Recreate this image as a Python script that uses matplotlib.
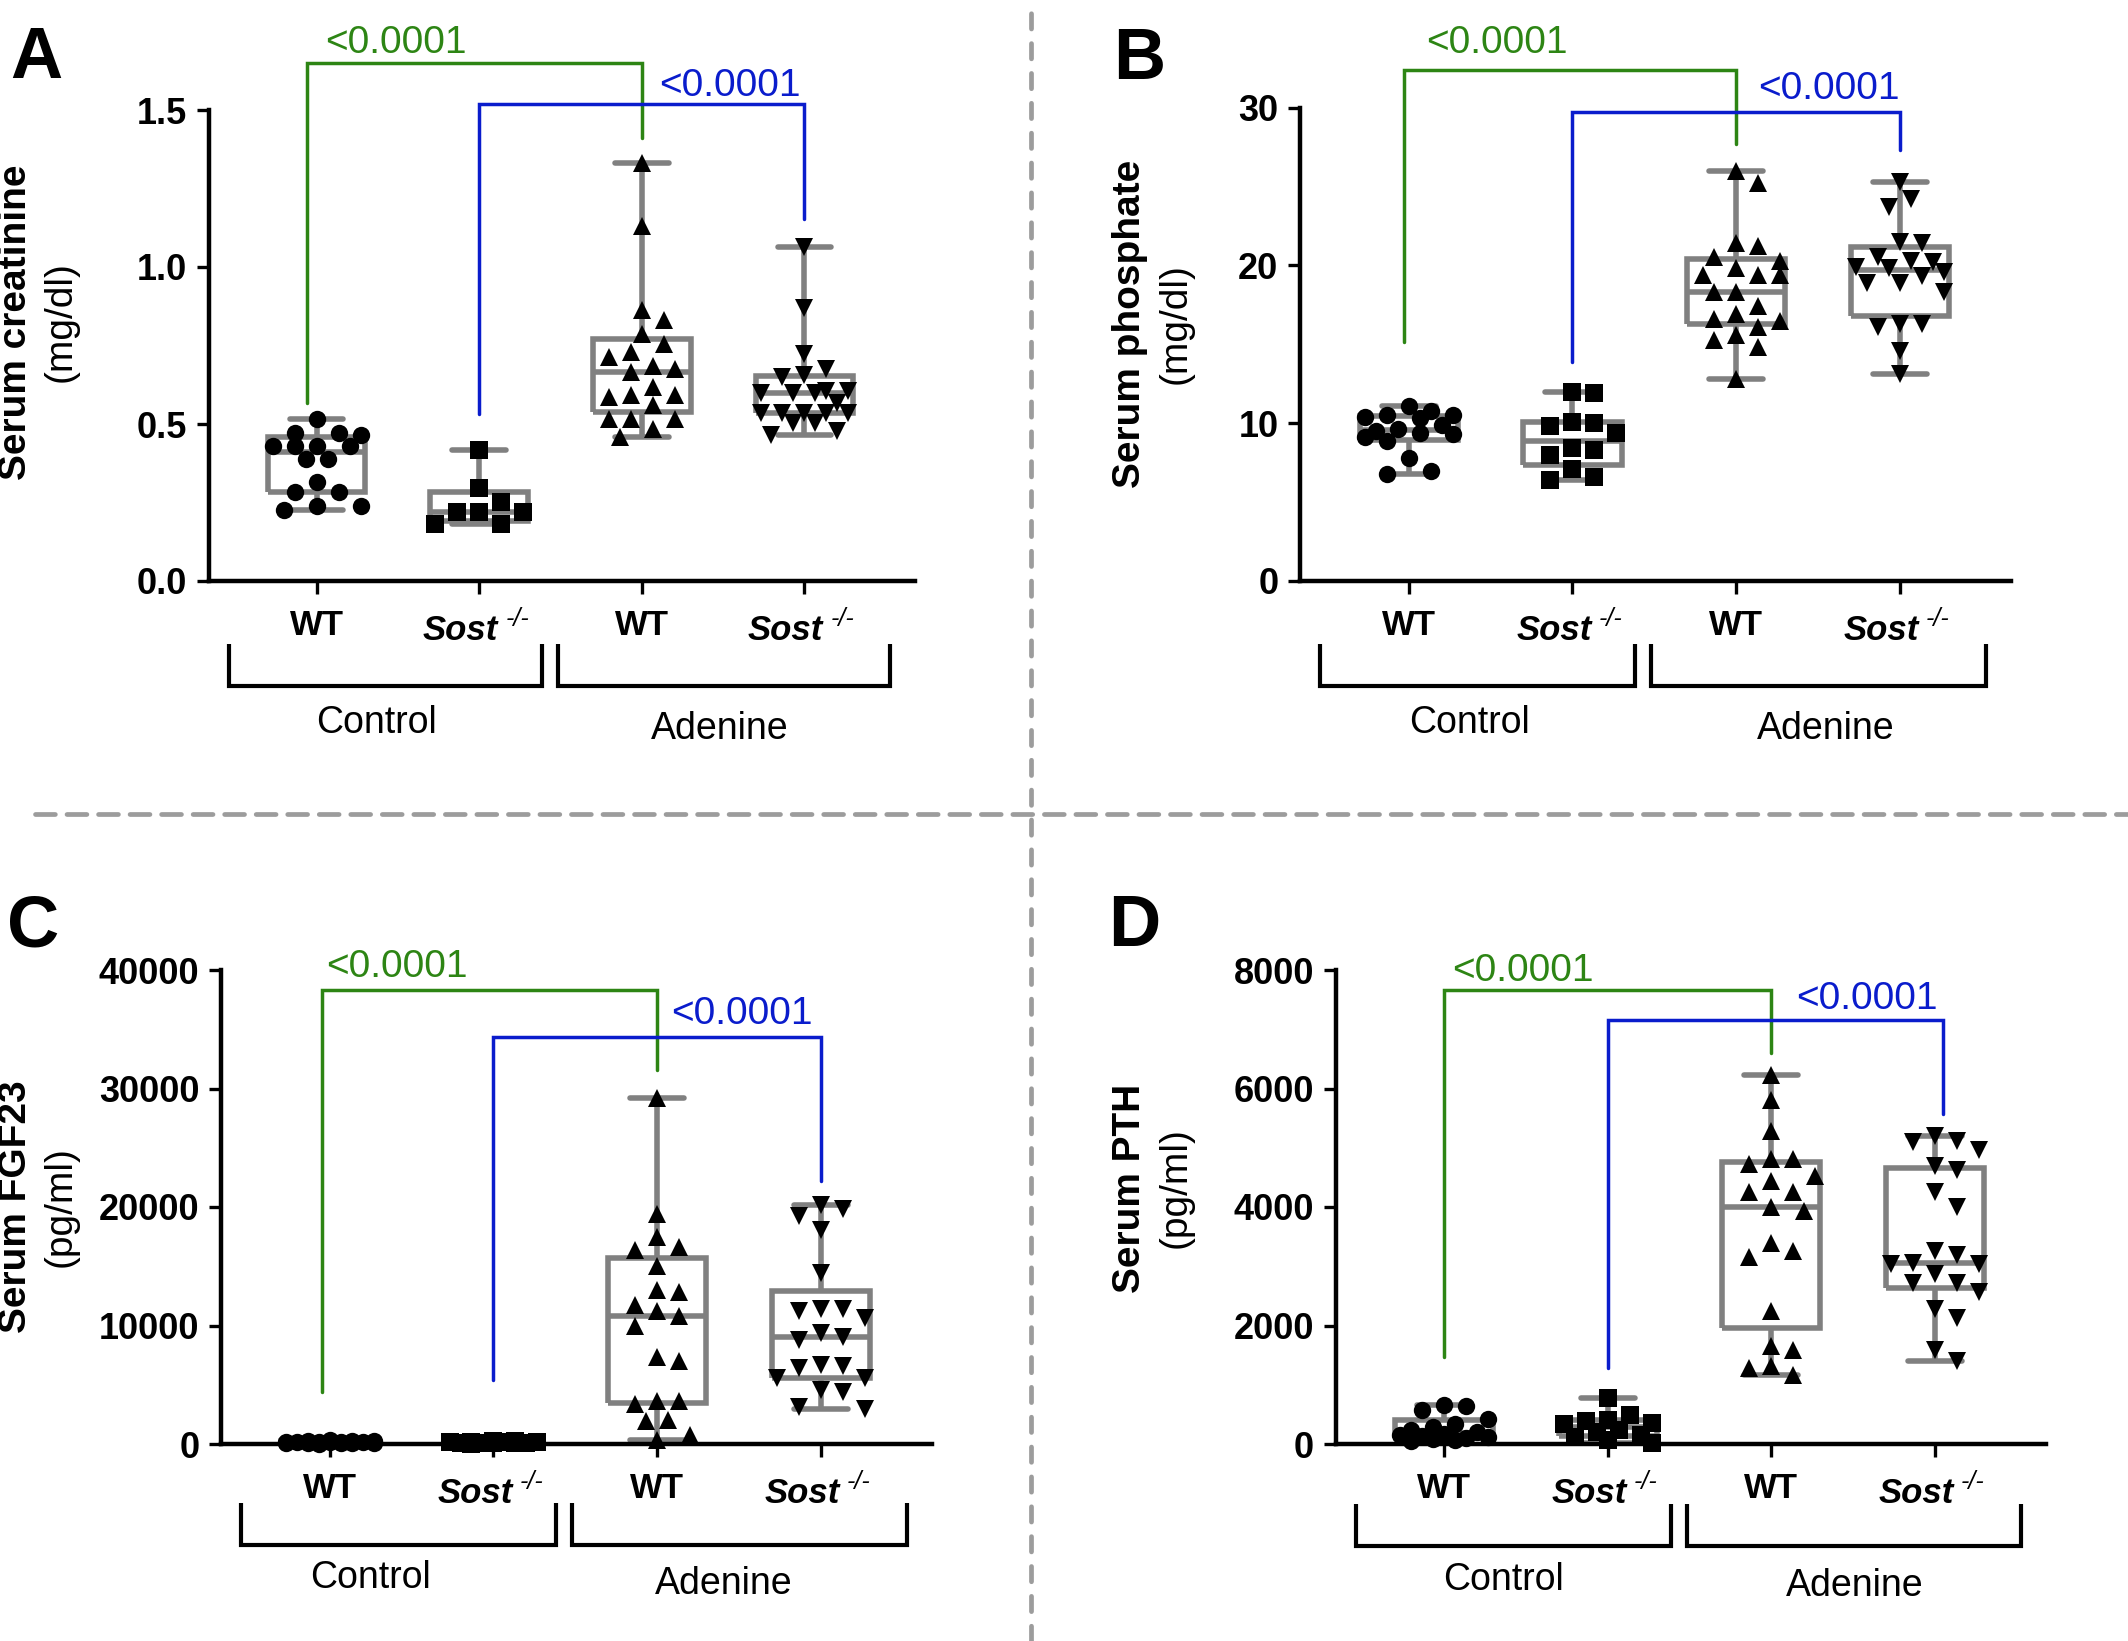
import numpy as np
import matplotlib
matplotlib.use('Agg')
import matplotlib.pyplot as plt
from matplotlib.lines import Line2D
import matplotlib.transforms as mtransforms

W, H = 2128, 1641
DPI = 100
PT = DPI / 72.0  # pixels per point

plt.rcParams['font.family'] = ['Liberation Sans', 'DejaVu Sans']
plt.rcParams['lines.scale_dashes'] = False

# ---------------- data ----------------
group_labels = ['WT', 'Sost', 'WT', 'Sost']
group_markers = ['o', 's', '^', 'v']
treatment_labels = ['Control', 'Adenine']
p_text = '<0.0001'

# A: serum creatinine (mg/dl)
creat_wt_ctrl = [0.516, 0.472, 0.466, 0.472, 0.431, 0.431, 0.431, 0.431, 0.39, 0.39,
                 0.315, 0.283, 0.283, 0.239, 0.239, 0.227]
creat_sost_ctrl = [0.416, 0.296, 0.252, 0.22, 0.22, 0.22, 0.183, 0.183]
creat_wt_ade = [1.33, 1.13, 0.863, 0.83, 0.787, 0.756, 0.73, 0.712, 0.686, 0.667, 0.674,
                0.617, 0.586, 0.592, 0.592, 0.56, 0.516, 0.516, 0.516, 0.485, 0.46]
creat_sost_ade = [1.064, 0.869, 0.724, 0.674, 0.655, 0.649, 0.605, 0.605, 0.598, 0.598,
                  0.598, 0.567, 0.535, 0.535, 0.535, 0.535, 0.535, 0.504, 0.504, 0.479, 0.466]

# B: serum phosphate (mg/dl)
phos_wt_ctrl = [11.1, 10.8, 10.5, 10.5, 10.4, 10.3, 9.9, 9.6, 9.5, 9.4, 9.3, 9.1, 8.9,
                7.8, 7.0, 6.8]
phos_sost_ctrl = [11.9, 12.0, 10.0, 10.1, 9.8, 9.4, 8.4, 8.3, 8.0, 7.1, 6.4, 6.6]
phos_wt_ade = [26.0, 25.2, 21.4, 21.2, 20.5, 20.3, 19.8, 19.4, 19.4, 19.4, 18.3, 18.3,
               17.4, 16.9, 16.6, 16.5, 16.1, 15.6, 15.3, 14.8, 12.8]
phos_sost_ade = [25.3, 24.2, 23.7, 21.5, 21.4, 20.5, 20.3, 20.2, 19.8, 19.6, 19.9, 19.3,
                 18.9, 18.9, 18.3, 16.3, 16.3, 16.1, 14.6, 13.1]

# C: serum FGF23 (pg/ml)
fgf_wt_ctrl = [310, 280, 250, 230, 210, 190, 170, 160, 150, 130, 120, 100, 90, 80, 60, 40]
fgf_sost_ctrl = [260, 230, 200, 180, 160, 140, 120, 100, 90, 70, 50, 30]
fgf_wt_ade = [29200, 19400, 17500, 16600, 16400, 15000, 13000, 12800, 11700, 11250,
              10800, 10000, 7300, 7000, 3600, 3600, 3400, 2000, 1900, 800, 300]
fgf_sost_ade = [20150, 19800, 19200, 18100, 14400, 11400, 11400, 11250, 10600, 9400,
                9060, 8750, 6700, 6560, 6400, 5600, 5600, 4530, 4375, 3125, 2970]

# D: serum PTH (pg/ml)
pth_wt_ctrl = [659, 640, 575, 420, 340, 290, 236, 200, 170, 150, 130, 110, 95, 80, 60, 50]
pth_sost_ctrl = [770, 490, 410, 380, 350, 330, 240, 210, 150, 125, 60, 15]
pth_wt_ade = [6220, 5810, 5280, 4810, 4810, 4720, 4530, 4440, 4250, 4250, 4000, 3940,
              3400, 3160, 3250, 2250, 1590, 1660, 1280, 1310, 1160]
pth_sost_ade = [4970, 5120, 5090, 5190, 4620, 4690, 4250, 4000, 3030, 3030, 3250, 3060,
                3190, 2870, 2720, 2720, 2560, 2280, 2125, 1590, 1400]

# y axis ticks
creat_ticks = [0.0, 0.5, 1.0, 1.5]
phos_ticks = [0, 10, 20, 30]
fgf_ticks = [0, 10000, 20000, 30000, 40000]
pth_ticks = [0, 2000, 4000, 6000, 8000]

# significance brackets: (left leg bottom, bar height, right leg bottom) in data units
creat_sig = dict(green=(0.567, 1.649, 1.41), blue=(0.532, 1.52, 1.152), gty=1.68, bty=1.545)
phos_sig = dict(green=(15.14, 32.35, 27.67), blue=(13.9, 29.71, 27.3), gty=33.43, bty=30.55)
fgf_sig = dict(green=(4375, 38290, 31580), blue=(5390, 34375, 22200), gty=39380, bty=35475)
pth_sig = dict(green=(1467, 7659, 6596), blue=(1281, 7162, 5563), gty=7815, bty=7348)

# ---------------- styling ----------------
GRAY = '#808080'
GREEN = '#2d8514'
BLUE = '#0a1ccc'
DASH = '#9c9c9c'
XLIM = (-0.665, 3.68)
MS = 12.5

panels = [
    dict(letter='A', groups=[creat_wt_ctrl, creat_sost_ctrl, creat_wt_ade, creat_sost_ade],
         ticks=creat_ticks, fmt='{:.1f}', ylabel='Serum creatinine', unit='(mg/dl)',
         rect=(208.5, 110, 915, 581), sig=creat_sig, gdx=8.6, bdx=-4,
         legs=(-0.06, 0, 0, 0), treat_x=(0.37, 2.48), shift=0,
         letter_xy=(10, 78), lab_x=(16, 61), lab_y=322),
    dict(letter='B', groups=[phos_wt_ctrl, phos_sost_ctrl, phos_wt_ade, phos_sost_ade],
         ticks=phos_ticks, fmt='{:.0f}', ylabel='Serum phosphate', unit='(mg/dl)',
         rect=(1300, 107.5, 2011, 581), sig=phos_sig, gdx=17.8, bdx=0,
         legs=(-0.03, 0, 0, 0), treat_x=(0.37, 2.55), shift=0,
         letter_xy=(1113, 79), lab_x=(1130, 1176), lab_y=324),
    dict(letter='C', groups=[fgf_wt_ctrl, fgf_sost_ctrl, fgf_wt_ade, fgf_sost_ade],
         ticks=fgf_ticks, fmt='{:.0f}', ylabel='Serum FGF23', unit='(pg/ml)',
         rect=(221, 970, 932, 1444), sig=fgf_sig, gdx=-4, bdx=-8,
         legs=(-0.05, 0, 0, 0), treat_x=(0.25, 2.41), shift=8,
         letter_xy=(7, 946), lab_x=(16, 61), lab_y=1207),
    dict(letter='D', groups=[pth_wt_ctrl, pth_sost_ctrl, pth_wt_ade, pth_sost_ade],
         ticks=pth_ticks, fmt='{:.0f}', ylabel='Serum PTH', unit='(pg/ml)',
         rect=(1335.5, 970, 2046, 1444), sig=pth_sig, gdx=8, bdx=2.5,
         legs=(0, 0, 0, 0.05), treat_x=(0.36, 2.51), shift=6,
         letter_xy=(1108, 946), lab_x=(1130, 1176), lab_y=1188),
]


def box_stats(v):
    v = np.asarray(v, float)
    q1, med, q3 = np.percentile(v, [25, 50, 75], method='weibull')
    return dict(med=med, q1=q1, q3=q3, whislo=v.min(), whishi=v.max(), fliers=[])


def swarm_offsets(vals, ypx_per_unit, d, max_off):
    vals = np.asarray(vals, float)
    ys = vals * ypx_per_unit
    order = np.argsort(-vals, kind='stable')
    sp = 1.15 * d
    step = 0.55 * sp
    n_steps = int(max_off // step)
    cands = [0.0]
    for k in range(1, n_steps + 1):
        cands += [k * step, -k * step]
    px, py = [], []
    off = np.zeros(len(vals))
    for i in order:
        chosen, best_c, best_d = None, 0.0, -1.0
        for c in cands:
            if px:
                dist = np.min(np.hypot(np.array(px) - c, np.array(py) - ys[i]))
            else:
                dist = np.inf
            if dist >= sp:
                chosen = c
                break
            if dist > best_d:
                best_d, best_c = dist, c
        if chosen is None:
            chosen = best_c
        off[i] = chosen
        px.append(chosen)
        py.append(ys[i])
    return off


fig = plt.figure(figsize=(W / DPI, H / DPI), dpi=DPI)


def fx(x):
    return x / W


def fy(y):
    return 1 - y / H


for P in panels:
    l, t, r, b = P['rect']
    wpx, hpx = r - l, b - t
    ax = fig.add_axes([fx(l), fy(b), wpx / W, hpx / H])
    ticks = P['ticks']
    ymin, ymax = ticks[0], ticks[-1]
    ax.set_xlim(*XLIM)
    ax.set_ylim(ymin, ymax)
    for s in ['top', 'right']:
        ax.spines[s].set_visible(False)
    for s in ['left', 'bottom']:
        ax.spines[s].set_linewidth(3.2)
        ax.spines[s].set_capstyle('projecting')
    ax.set_yticks(ticks)
    ax.set_yticklabels([P['fmt'].format(v) for v in ticks], fontsize=26, fontweight='bold')
    ax.set_xticks(range(4))
    ax.set_xticklabels([])
    ax.tick_params(axis='both', length=9, width=2.4, direction='out')
    ax.tick_params(axis='y', pad=6.5)

    xpx_per_unit = wpx / (XLIM[1] - XLIM[0])
    ypx_per_unit = hpx / (ymax - ymin)
    dpx = MS * PT

    stats = [box_stats(g) for g in P['groups']]
    lp = dict(color=GRAY, linewidth=4, solid_capstyle='butt', solid_joinstyle='miter')
    ax.bxp(stats, positions=range(4), widths=0.6, capwidths=0.33, showfliers=False,
           boxprops=lp, whiskerprops=lp, medianprops=lp,
           capprops=dict(color=GRAY, linewidth=4, solid_capstyle='round'),
           manage_ticks=False, zorder=2)

    for i, (g, m) in enumerate(zip(P['groups'], group_markers)):
        off = swarm_offsets(g, ypx_per_unit, dpx, 54) / xpx_per_unit
        ax.plot(i + off, g, linestyle='none', marker=m, ms=MS, color='black',
                markeredgewidth=0, zorder=3, clip_on=False)

    # significance brackets
    sig = P['sig']
    lg = P['legs']
    for (x0, x1), key, col in [((0 + lg[0], 2 + lg[1]), 'green', GREEN),
                               ((1 + lg[2], 3 + lg[3]), 'blue', BLUE)]:
        y0, ytop, y1 = sig[key]
        ax.plot([x0, x0, x1, x1], [y0, ytop, ytop, y1], color=col, lw=2.5,
                solid_capstyle='round', solid_joinstyle='miter', clip_on=False, zorder=4)
    ax.annotate(p_text, xy=(0, sig['gty']), xytext=(P['gdx'] / PT, 0),
                textcoords='offset points', ha='left', va='baseline', color=GREEN,
                annotation_clip=False, fontsize=28)
    ax.annotate(p_text, xy=(3, sig['bty']), xytext=(P['bdx'] / PT, 0),
                textcoords='offset points', ha='right', va='baseline', color=BLUE,
                annotation_clip=False, fontsize=28)

    # category labels
    trans = mtransforms.blended_transform_factory(ax.transData, ax.transAxes)
    for i, lab in enumerate(group_labels):
        if lab == 'WT':
            ax.annotate(lab, xy=(i, 0), xycoords=trans, xytext=(0, -54 / PT),
                        textcoords='offset points', ha='center', va='baseline',
                        fontsize=25, fontweight='bold', annotation_clip=False)
        else:
            ax.annotate(lab, xy=(i, 0), xycoords=trans, xytext=(19 / PT, -59 / PT),
                        textcoords='offset points', ha='right', va='baseline',
                        fontsize=25, fontweight='bold', fontstyle='italic',
                        annotation_clip=False)
            ax.annotate('-/-', xy=(i, 0), xycoords=trans, xytext=(26 / PT, -45 / PT),
                        textcoords='offset points', ha='left', va='baseline',
                        fontsize=18, fontstyle='italic', annotation_clip=False)

    # treatment brackets
    sh = P['shift']
    ytop_b = (-63 + sh * 0.5) / hpx
    ybot_b = (-105 + sh * 0.5) / hpx
    for xa, xb in [(-0.54, 1.384), (1.483, 3.528)]:
        ax.plot([xa, xa, xb, xb], [ytop_b, ybot_b, ybot_b, ytop_b], transform=trans,
                color='black', lw=3, solid_joinstyle='miter', solid_capstyle='butt',
                clip_on=False)
    ax.annotate(treatment_labels[0], xy=(P['treat_x'][0], 0), xycoords=trans,
                xytext=(0, (-152 + sh) / PT), textcoords='offset points', ha='center',
                va='baseline', fontsize=27, annotation_clip=False)
    ax.annotate(treatment_labels[1], xy=(P['treat_x'][1], 0), xycoords=trans,
                xytext=(0, (-158 + sh) / PT), textcoords='offset points', ha='center',
                va='baseline', fontsize=27, annotation_clip=False)

    # y labels and panel letter
    fig.text(fx(P['lab_x'][0]), fy(P['lab_y']), P['ylabel'], rotation=90, ha='center',
             va='center', fontsize=28, fontweight='bold')
    fig.text(fx(P['lab_x'][1]), fy(P['lab_y']), P['unit'], rotation=90, ha='center',
             va='center', fontsize=28)
    fig.text(fx(P['letter_xy'][0]), fy(P['letter_xy'][1]), P['letter'], ha='left',
             va='baseline', fontsize=52, fontweight='bold')

# dashed separators
fig.add_artist(Line2D([fx(35), 1.0], [fy(814), fy(814)], color=DASH, lw=3.4,
                      linestyle=(0, (14.3, 8.4)), dash_capstyle='round',
                      transform=fig.transFigure))
fig.add_artist(Line2D([fx(1031), fx(1031)], [0.0, 1.0], color=DASH, lw=3.4,
                      linestyle=(0, (11.0, 10.5)), dash_capstyle='round',
                      transform=fig.transFigure))

fig.savefig('out.png', dpi=DPI)
